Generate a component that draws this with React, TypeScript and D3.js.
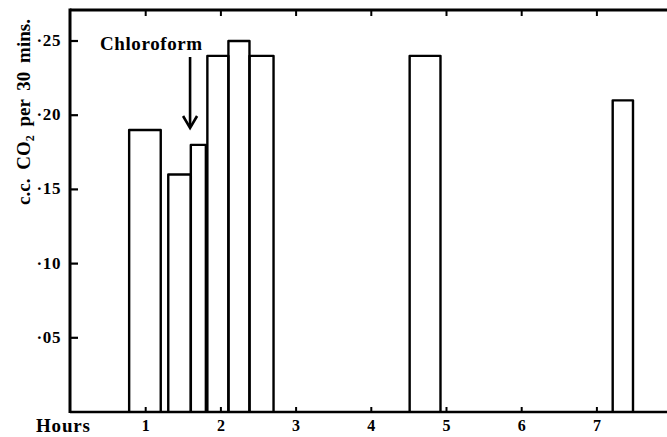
import React from "react";
import * as d3 from "d3";

// periods of measurement (hours) and CO2 given off (c.c. per 30 mins)
const periodStart = [0.78, 1.3, 1.6, 1.82, 2.1, 2.38, 4.51, 7.21];
const periodEnd = [1.2, 1.6, 1.8, 2.1, 2.38, 2.7, 4.92, 7.48];
const co2Values = [0.19, 0.16, 0.18, 0.24, 0.25, 0.24, 0.24, 0.21];

const yTicks = [0.05, 0.1, 0.15, 0.2, 0.25];
const yTickLabels = ["·05", "·10", "·15", "·20", "·25"];
const hourTicks = [1, 2, 3, 4, 5, 6, 7];
const chloroformAt = 1.59;

const W = 667;
const H = 437;
const left = 70;
const top = 10;
const bottom = 412;
const font = "'Liberation Serif', 'Times New Roman', serif";

export default function App() {
  const x = d3.scaleLinear().domain([0, 8]).range([left + 0.5, left + 0.5 + 8 * 75.2]);
  const y = d3.scaleLinear().domain([0, 0.25]).range([bottom, 41]);

  const bars = co2Values.map((v, i) => {
    const p = d3.path();
    p.moveTo(x(periodStart[i]), y(0));
    p.lineTo(x(periodStart[i]), y(v));
    p.lineTo(x(periodEnd[i]), y(v));
    p.lineTo(x(periodEnd[i]), y(0));
    return p.toString();
  });

  const ax = x(chloroformAt);

  return (
    <svg width={W} height={H} style={{ position: "absolute", left: 0, top: 0, background: "#fff" }}>
      {/* bars, open at the base */}
      {bars.map((d, i) => (
        <path key={i} d={d} fill="none" stroke="#000" strokeWidth={2.4} strokeLinejoin="round" />
      ))}

      {/* frame */}
      <line x1={left} x2={W} y1={top} y2={top} stroke="#000" strokeWidth={3} />
      <line x1={left} x2={left} y1={top - 1.5} y2={bottom + 1} stroke="#000" strokeWidth={3} />
      <line x1={left} x2={W} y1={bottom} y2={bottom} stroke="#000" strokeWidth={2.6} />

      {/* hour ticks top and bottom */}
      {hourTicks.map((h) => (
        <g key={h}>
          <line x1={x(h)} x2={x(h)} y1={top} y2={top + 6} stroke="#000" strokeWidth={2} />
          <line x1={x(h)} x2={x(h)} y1={bottom} y2={bottom - 5} stroke="#000" strokeWidth={2} />
          <text x={x(h)} y={431} textAnchor="middle" fontFamily={font} fontWeight="bold" fontSize={16}>
            {h}
          </text>
        </g>
      ))}
      <text x={36} y={432} fontFamily={font} fontWeight="bold" fontSize={19} letterSpacing={0.8}>
        Hours
      </text>

      {/* value ticks */}
      {yTicks.map((t, i) => (
        <g key={t}>
          <line x1={left} x2={left + 8} y1={y(t)} y2={y(t)} stroke="#000" strokeWidth={2.2} />
          <text x={61} y={y(t) + 5} textAnchor="end" fontFamily={font} fontWeight="bold" fontSize={17} letterSpacing={0.6}>
            {yTickLabels[i]}
          </text>
        </g>
      ))}

      {/* axis title */}
      <text
        transform={`translate(30,${112}) rotate(-90)`}
        textAnchor="middle"
        fontFamily={font}
        fontWeight="bold"
        fontSize={19}
        wordSpacing={4}
      >
        c.c. CO<tspan fontSize={12} dy={4}>2</tspan>
        <tspan dy={-4}> per 30 mins.</tspan>
      </text>

      {/* chloroform marker */}
      <text x={100} y={50} fontFamily={font} fontWeight="bold" fontSize={19} letterSpacing={0.6}>
        Chloroform
      </text>
      <line x1={ax} x2={ax} y1={57} y2={127} stroke="#000" strokeWidth={2.6} />
      <path
        d={`M${ax - 7},${116} L${ax},${128} L${ax + 7},${116}`}
        fill="none"
        stroke="#000"
        strokeWidth={2.6}
        strokeLinejoin="miter"
      />
    </svg>
  );
}
